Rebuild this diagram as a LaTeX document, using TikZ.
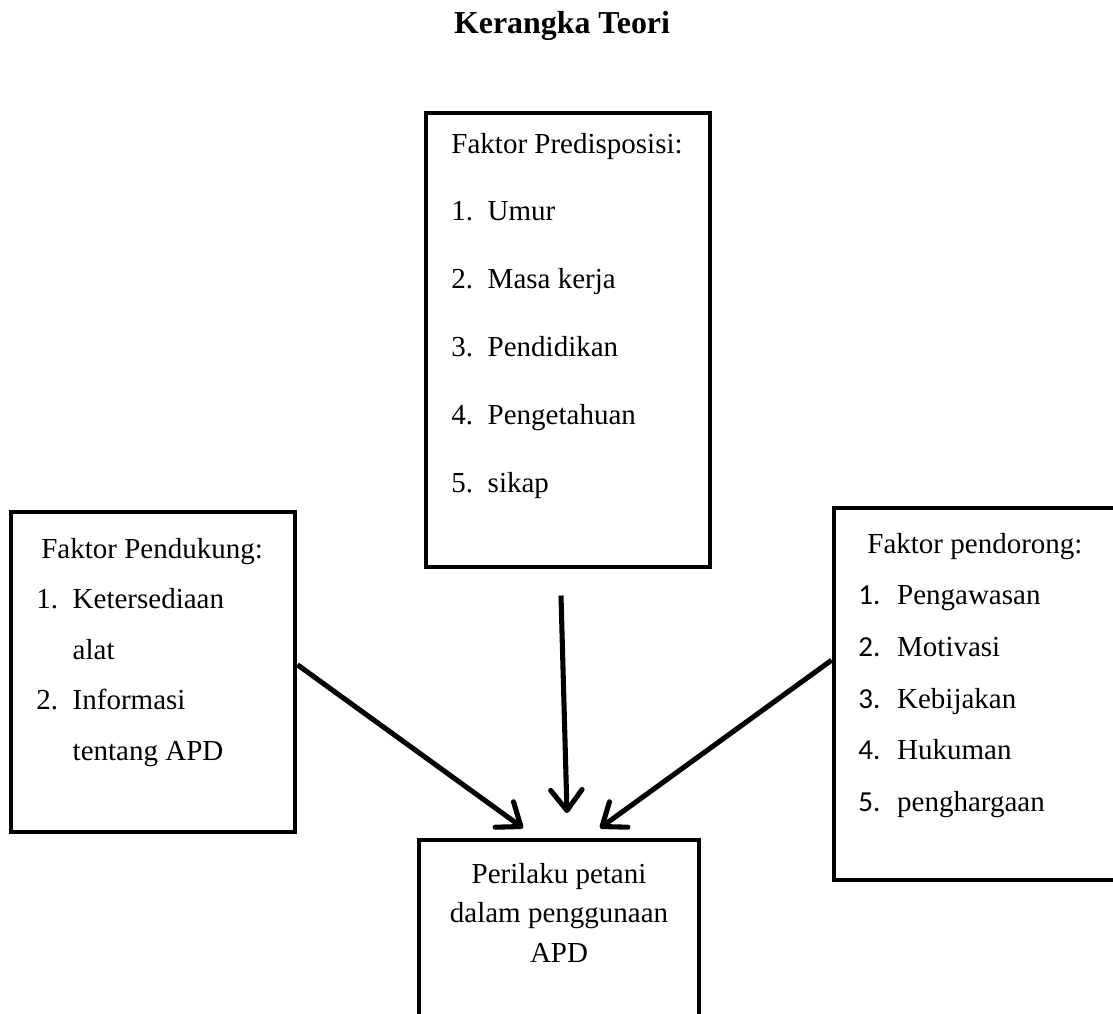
\documentclass[tikz,border=0pt]{standalone}
\usepackage{fontspec}
\setmainfont{Liberation Serif}
\newfontfamily\calibri{Carlito}
\usetikzlibrary{arrows.meta, fit}
\newcommand{\nomor}[2][15pt]{\makebox[#1][l]{#2}}

\begin{document}
\begin{tikzpicture}[x=0.4138pt,y=-0.4138pt,
  kotak/.style={draw=black, line width=2pt, inner sep=0pt},
  isi/.style={inner sep=0pt, anchor=base west},
  panah/.style={line width=2.1pt, -{Straight Barb[length=8.5pt,width=13pt,round]}}]
\useasboundingbox (0,0) rectangle (1113,1013);
\node[font=\bfseries\fontsize{13.2}{16}\selectfont, inner sep=0pt, anchor=base] (judul) at (562,33) {Kerangka Teori};
% kotak-kotak
\node[kotak, fit={(426,113) (710,567)}] (predisposisi) {};
\node[kotak, fit={(11,512) (295,832)}] (pendukung) {};
\node[kotak, fit={(834,508) (1125,880)}] (pendorong) {};
\node[kotak, fit={(419,840) (699,1040)}] (perilaku) {};
% isi kotak
\node[isi, font=\fontsize{12}{28.1}\selectfont] (isiPredisposisi) at (451,153) {\begin{tabular}[t]{@{}l@{}}
Faktor Predisposisi:\\
\nomor{1.}Umur\\
\nomor{2.}Masa kerja\\
\nomor{3.}Pendidikan\\
\nomor{4.}Pengetahuan\\
\nomor{5.}sikap
\end{tabular}};
\node[isi, font=\fontsize{12}{20.9}\selectfont] (isiPendukung) at (36,558) {\begin{tabular}[t]{@{}l@{}}
\hspace{2pt}Faktor Pendukung:\\
\nomor{1.}Ketersediaan\\
\nomor{}alat\\
\nomor{2.}Informasi\\
\nomor{}tentang APD
\end{tabular}};
\node[isi, font=\fontsize{12}{21.4}\selectfont] (isiPendorong) at (858,553) {\begin{tabular}[t]{@{}l@{}}
\hspace{3.7pt}Faktor pendorong:\\
\nomor[16pt]{\calibri 1.}Pengawasan\\
\nomor[16pt]{\calibri 2.}Motivasi\\
\nomor[16pt]{\calibri 3.}Kebijakan\\
\nomor[16pt]{\calibri 4.}Hukuman\\
\nomor[16pt]{\calibri 5.}penghargaan
\end{tabular}};
\node[inner sep=0pt, anchor=base, font=\fontsize{12}{16.4}\selectfont] (isiPerilaku) at (559,883) {\begin{tabular}[t]{@{}c@{}}
Perilaku petani\\
dalam penggunaan\\
APD
\end{tabular}};
% panah
\coordinate (ujungA) at (523,828);
\coordinate (ujungB) at (567,813);
\coordinate (ujungC) at (600,828);
\draw[panah] ([yshift=3pt]pendukung.east) -- (ujungA);
\draw[panah] ([xshift=-2.9pt,yshift=-10.8pt]predisposisi.south) -- (ujungB);
\draw[panah] ([yshift=14pt]pendorong.west) -- (ujungC);
\end{tikzpicture}
\end{document}
